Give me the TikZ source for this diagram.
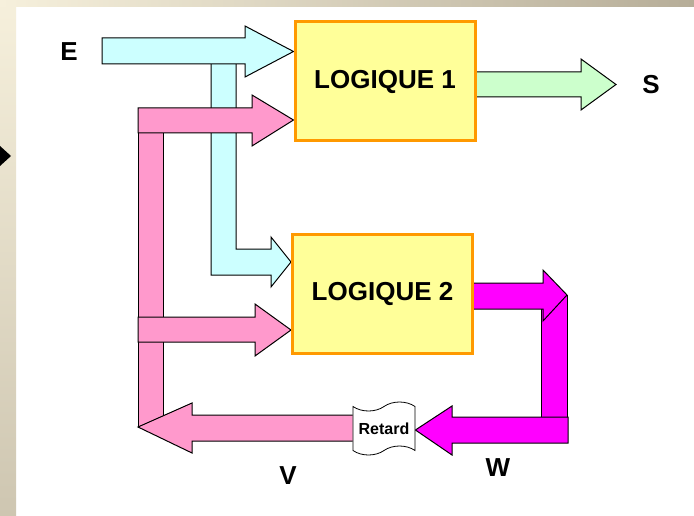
\documentclass[tikz,border=0pt]{standalone}
\usepackage{fontspec}
\setmainfont{Liberation Sans}
\usetikzlibrary{shapes.symbols}
\pgfdeclarelayer{frame}
\pgfdeclarelayer{back}
\pgfsetlayers{frame,back,main}
\definecolor{cyanfill}{HTML}{CCFFFF}
\definecolor{pinkfill}{HTML}{FF99CC}
\definecolor{magfill}{HTML}{FF00FF}
\definecolor{greenfill}{HTML}{CCFFCC}
\definecolor{boxfill}{HTML}{FFFF99}
\definecolor{boxline}{HTML}{FF9900}
\definecolor{stripA}{HTML}{F6F0DC}
\definecolor{stripB}{HTML}{B6AD98}
\definecolor{stripC}{HTML}{CEC6B1}
\tikzset{
  logic/.style={draw=boxline, line width=3pt, fill=boxfill, minimum width=180, minimum height=119,
    inner sep=0pt, font=\fontsize{26}{30}\selectfont\bfseries},
  blockarrow/.style={draw=black, line width=1pt, line join=miter},
  lbl/.style={font=\fontsize{26}{30}\selectfont\bfseries, inner sep=0pt},
  delay/.style={tape, draw=black, line width=0.8pt, fill=white, minimum width=62, minimum height=53,
    tape bend height=9pt, inner sep=0pt, font=\fontsize{16}{18}\selectfont\bfseries}
}
\begin{document}
\begin{tikzpicture}[x=1pt, y=-1pt]
\useasboundingbox (0,0) rectangle (694,516);

% frame of the slide
\begin{pgfonlayer}{frame}
\fill[white] (0,0) rectangle (694,516);
\shade[top color=stripA, bottom color=stripC] (0,0) rectangle (16,516);
\shade[left color=stripA, right color=stripB] (0,0) rectangle (694,7);
\fill[black] (0,146) -- (11,156) -- (0,166) -- cycle;
\end{pgfonlayer}

% logic blocks and the delay element
\node[logic] (L1) at (385,81.5) {LOGIQUE 1};
\node[logic] (L2) at (382.5,293.5) {LOGIQUE 2};
\node[delay] (R) at (384,428.5) {Retard};

% signal names
\node[lbl] (E) at (69,52) {E};
\node[lbl] (S) at (651,85) {S};
\node[lbl] (V) at (288,476) {V};
\node[lbl] (W) at (498,468) {W};

\begin{pgfonlayer}{back}
% V feedback column
\draw[blockarrow, fill=pinkfill] (138,112) rectangle (163,427);
% E branch down to LOGIQUE 2
\draw[blockarrow, fill=cyanfill] (211,60) -- (211,275) -- (271,275) -- (271,287) -- (L2.west |- 0,262)
  -- (271,237) -- (271,249) -- (236,249) -- (236,60);
% E into LOGIQUE 1
\draw[blockarrow, fill=cyanfill] (102,38) -- (245,38) -- (245,26) -- (L1.west |- 0,51.5)
  -- (245,77) -- (245,64) -- (102,64) -- cycle;
% V into LOGIQUE 1 and LOGIQUE 2
\draw[blockarrow, fill=pinkfill] (138,108) -- (252,108) -- (252,95) -- (L1.west |- 0,120)
  -- (252,146) -- (252,133) -- (138,133) -- cycle;
\draw[blockarrow, fill=pinkfill] (138,317) -- (255,317) -- (255,304) -- (L2.west |- 0,330)
  -- (255,356) -- (255,342) -- (138,342) -- cycle;
% V out of the delay
\draw[blockarrow, fill=pinkfill] (R.west |- 0,415) -- (192,415) -- (192,403) -- (138,427)
  -- (192,453) -- (192,441) -- (R.west |- 0,441);
% W loop
\draw[blockarrow, fill=magfill] (541,295) rectangle (567,420);
\draw[blockarrow, fill=magfill] (L2.east |- 0,283) -- (543,283) -- (543,270) -- (567,295)
  -- (543,321) -- (543,309) -- (L2.east |- 0,309);
\draw[blockarrow, fill=magfill] (568,417) -- (452,417) -- (452,406) -- (R.east |- 0,430)
  -- (452,455) -- (452,443) -- (568,443) -- cycle;
% S output
\draw[blockarrow, fill=greenfill] (L1.east |- 0,72) -- (581,72) -- (581,59) -- (616,84.5)
  -- (581,110) -- (581,97) -- (L1.east |- 0,97);
\end{pgfonlayer}
\end{tikzpicture}
\end{document}
